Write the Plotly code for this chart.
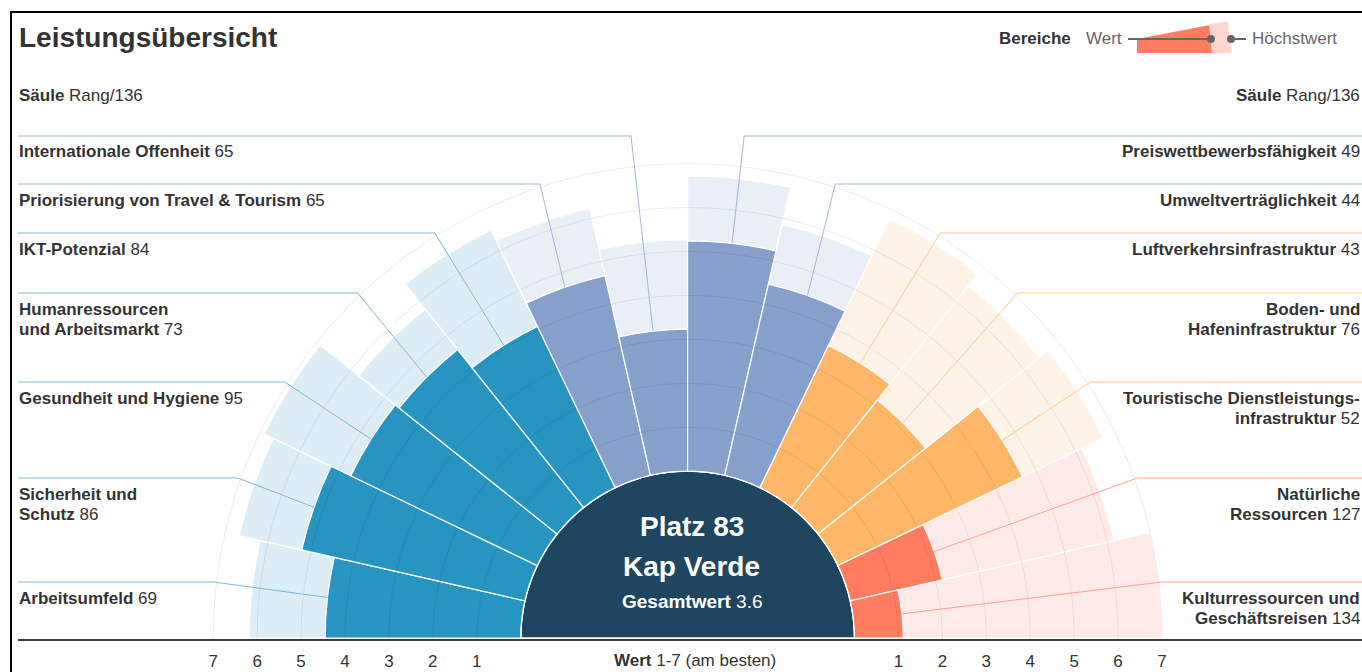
import math
import plotly.graph_objects as go

# ---------------- data ----------------
pillars = [
    "Arbeitsumfeld", "Sicherheit und Schutz", "Gesundheit und Hygiene",
    "Humanressourcen und Arbeitsmarkt", "IKT-Potenzial",
    "Priorisierung von Travel & Tourism", "Internationale Offenheit",
    "Preiswettbewerbsfähigkeit", "Umweltverträglichkeit",
    "Luftverkehrsinfrastruktur", "Boden- und Hafeninfrastruktur",
    "Touristische Dienstleistungsinfrastruktur", "Natürliche Ressourcen",
    "Kulturressourcen und Geschäftsreisen",
]
label_lines = [
    ["Arbeitsumfeld"], ["Sicherheit und", "Schutz"], ["Gesundheit und Hygiene"],
    ["Humanressourcen", "und Arbeitsmarkt"], ["IKT-Potenzial"],
    ["Priorisierung von Travel & Tourism"], ["Internationale Offenheit"],
    ["Preiswettbewerbsfähigkeit"], ["Umweltverträglichkeit"],
    ["Luftverkehrsinfrastruktur"], ["Boden- und", "Hafeninfrastruktur"],
    ["Touristische Dienstleistungs-", "infrastruktur"], ["Natürliche", "Ressourcen"],
    ["Kulturressourcen und", "Geschäftsreisen"],
]
ranks = [69, 86, 95, 73, 84, 65, 65, 49, 44, 43, 76, 52, 127, 134]
values = [4.45, 5.21, 4.71, 4.60, 4.07, 4.66, 3.23, 5.24, 4.46, 3.59, 3.13, 4.66, 2.15, 1.11]
max_values = [6.18, 6.67, 6.90, 5.78, 6.51, 6.23, 5.27, 6.72, 5.86, 6.80, 6.44, 6.70, 6.16, 7.00]
groups = [0, 0, 0, 0, 0, 1, 1, 1, 1, 2, 2, 2, 3, 3]
n_countries = 136
overall_rank = 83
country = "Kap Verde"
overall_score = 3.6
scale_ticks = [1, 2, 3, 4, 5, 6, 7]

# ---------------- style / layout ----------------
dark_colors = ["#2794C1", "#879FCB", "#FFB767", "#FF7C60"]
light_colors = ["#DDEDF5", "#EAEFF6", "#FFF3E7", "#FFEAE7"]
line_colors = ["#7DB7D7", "#A3B6DC", "#FFC58C", "#FFA092"]
navy = "#1F465E"
txt = "#333333"
grey = "#666666"
grid_color = "rgba(0,0,0,0.075)"
FONT = "Liberation Sans, Arial, sans-serif"
FS = 17

W, H = 1362, 672
CX, CY = 687.6, 638.0      # centre of the half circle (px)
R_PX = 474.4               # radius of value 7 (px)
LEFT_PX = 18
TEXT_DX = 4                # centre texts sit slightly right of the centre
label_line_py = [582, 478, 382, 293, 233, 184, 136, 136, 184, 233, 293, 382, 478, 582]
LINE_GAP = 20.5

R_MIN = -3.8               # radial value at the centre (hole)
R_MAX = 7
UNIT = R_PX / (R_MAX - R_MIN)  # px per value unit


def fx(px):
    return px / W


def fy(py):
    return 1 - py / H


n = len(pillars)
step = 180.0 / n
thetas = [180 - (i + 0.5) * step for i in range(n)]

fig = go.Figure()

# centre disc
fig.add_trace(go.Barpolar(r=[-R_MIN], base=[R_MIN], theta=[90], width=[180],
                          marker=dict(color=navy, line=dict(color="white", width=1.5)),
                          hoverinfo="skip", showlegend=False))
# maximum values
fig.add_trace(go.Barpolar(r=max_values, base=[0] * n, theta=thetas, width=[step] * n,
                          marker=dict(color=[light_colors[g] for g in groups],
                                      line=dict(color="white", width=1.2)),
                          hoverinfo="skip", showlegend=False))
# country values
fig.add_trace(go.Barpolar(r=values, base=[0] * n, theta=thetas, width=[step] * n,
                          marker=dict(color=[dark_colors[g] for g in groups],
                                      line=dict(color="white", width=1.2)),
                          customdata=pillars, hovertemplate="%{customdata}: %{r}<extra></extra>",
                          showlegend=False))

# cartesian overlay with the same geometry as the polar plot (unit = one value step)
x_lo = (LEFT_PX - CX) / UNIT
x_hi = (W - CX) / UNIT
y_lo = -1 / UNIT
y_hi = CY / UNIT
fig.add_trace(go.Scatter(x=[], y=[], xaxis="x", yaxis="y", showlegend=False, hoverinfo="skip"))
tickvals = [-(t - R_MIN) for t in reversed(scale_ticks)] + [t - R_MIN for t in scale_ticks]
ticktext = [str(t) for t in reversed(scale_ticks)] + [str(t) for t in scale_ticks]

shapes = []
# scale circles drawn over the bars (clipped to the upper half by the axes area)
for t in scale_ticks:
    rho = t - R_MIN
    shapes.append(dict(type="circle", xref="x", yref="y", layer="above",
                       x0=-rho, x1=rho, y0=-rho, y1=rho,
                       line=dict(color=grid_color, width=1), fillcolor="rgba(0,0,0,0)"))
# leader lines (tip of the value bar -> elbow -> label)
r_el = (R_MAX - R_MIN) + 3 / UNIT
for i in range(n):
    th = math.radians(thetas[i])
    rho = values[i] - R_MIN
    xt, yt = rho * math.cos(th), rho * math.sin(th)
    yd = (CY - label_line_py[i]) / UNIT
    sgn = 1 if math.cos(th) > 0 else -1
    if yd < r_el:
        xe = sgn * math.sqrt(r_el ** 2 - yd ** 2)
    else:
        xe = yd / math.tan(th)
    xend = x_hi if sgn > 0 else x_lo
    shapes.append(dict(type="path", xref="x", yref="y", layer="above",
                       path="M %f,%f L %f,%f L %f,%f" % (xt, yt, xe, yd, xend, yd),
                       line=dict(color=line_colors[groups[i]], width=1)))

annotations = []
annotations.append(dict(text="<b>Leistungsübersicht</b>", x=fx(17), y=fy(37), xanchor="left",
                        yanchor="middle", font=dict(size=28, color=txt)))
for xa, xx in [("left", fx(17)), ("right", 1.0)]:
    annotations.append(dict(text="<b>Säule</b> Rang/%d" % n_countries, x=xx, y=fy(96), xanchor=xa,
                            yanchor="middle", font=dict(size=FS, color=txt)))
for i in range(n):
    left = thetas[i] > 90
    lines = label_lines[i]
    for k, ln in enumerate(lines):
        html = "<b>%s</b>" % ln
        if k == len(lines) - 1:
            html += " %d" % ranks[i]
        annotations.append(dict(text=html, x=fx(17) if left else 1.0,
                                y=fy(label_line_py[i] + 16 + k * LINE_GAP),
                                xanchor="left" if left else "right", yanchor="middle",
                                font=dict(size=FS, color=txt)))
annotations.append(dict(text="<b>Platz %d</b>" % overall_rank, x=fx(CX + TEXT_DX), y=fy(526),
                        xanchor="center", yanchor="middle", font=dict(size=28, color="white")))
annotations.append(dict(text="<b>%s</b>" % country, x=fx(CX + TEXT_DX), y=fy(566), xanchor="center",
                        yanchor="middle", font=dict(size=28, color="white")))
annotations.append(dict(text="<b>Gesamtwert</b> %.1f" % overall_score, x=fx(CX + TEXT_DX), y=fy(601),
                        xanchor="center", yanchor="middle", font=dict(size=19, color="white")))
annotations.append(dict(text="<b>Wert</b> 1-7 (am besten)", x=fx(CX + 7), y=fy(660),
                        xanchor="center", yanchor="middle", font=dict(size=FS, color=txt)))
# legend texts
annotations.append(dict(text="<b>Bereiche</b>", x=fx(1073), y=fy(38), xanchor="right", yanchor="middle",
                        font=dict(size=FS, color=txt)))
annotations.append(dict(text="Wert", x=fx(1124), y=fy(38), xanchor="right", yanchor="middle",
                        font=dict(size=FS, color=grey)))
annotations.append(dict(text="Höchstwert", x=fx(1250), y=fy(38), xanchor="left", yanchor="middle",
                        font=dict(size=FS, color=grey)))
for a in annotations:
    a.update(xref="paper", yref="paper", showarrow=False)


def path(pts):
    return "M " + " L ".join("%f,%f" % (fx(a), fy(b)) for a, b in pts) + " Z"


shapes += [
    dict(type="rect", xref="paper", yref="paper", x0=fx(11), y0=fy(12), x1=fx(1375), y1=fy(690),
         line=dict(color="black", width=2), fillcolor="rgba(0,0,0,0)", layer="above"),
    dict(type="path", xref="paper", yref="paper", path=path([(1137, 39), (1210, 25), (1212, 53), (1137, 53)]),
         fillcolor=dark_colors[3], line=dict(width=0), layer="above"),
    dict(type="path", xref="paper", yref="paper", path=path([(1209, 24), (1228, 21.5), (1232, 53), (1212, 53)]),
         fillcolor="#FFD6CF", line=dict(width=0), layer="above"),
    dict(type="line", xref="paper", yref="paper", x0=fx(1128), y0=fy(39), x1=fx(1211), y1=fy(39),
         line=dict(color=grey, width=2), layer="above"),
    dict(type="line", xref="paper", yref="paper", x0=fx(1231), y0=fy(39), x1=fx(1246), y1=fy(39),
         line=dict(color=grey, width=2), layer="above"),
    dict(type="circle", xref="paper", yref="paper", x0=fx(1207), y0=fy(35), x1=fx(1215), y1=fy(43),
         fillcolor=grey, line=dict(width=0), layer="above"),
    dict(type="circle", xref="paper", yref="paper", x0=fx(1227), y0=fy(35), x1=fx(1235), y1=fy(43),
         fillcolor=grey, line=dict(width=0), layer="above"),
]

fig.update_layout(
    width=W, height=H, margin=dict(l=0, r=0, t=0, b=0),
    paper_bgcolor="white", plot_bgcolor="rgba(0,0,0,0)",
    font=dict(family=FONT, color=txt),
    showlegend=False,
    polar=dict(
        domain=dict(x=[fx(CX - R_PX), fx(CX + R_PX)], y=[fy(CY), fy(CY - R_PX)]),
        sector=[0, 180], hole=0, bgcolor="rgba(0,0,0,0)",
        radialaxis=dict(range=[R_MIN, R_MAX], tickvals=scale_ticks, showticklabels=False, ticks="",
                        showline=False, showgrid=False),
        angularaxis=dict(showgrid=False, showticklabels=False, ticks="", showline=False,
                         thetaunit="degrees", rotation=0, direction="counterclockwise"),
    ),
    xaxis=dict(domain=[fx(LEFT_PX), 1], range=[x_lo, x_hi], tickvals=tickvals, ticktext=ticktext,
               showgrid=False, zeroline=False, showline=True, linecolor="#3a3a3a", linewidth=2,
               ticks="outside", ticklen=6, tickcolor="rgba(0,0,0,0)", tickfont=dict(size=FS, color=txt),
               fixedrange=True),
    yaxis=dict(domain=[fy(CY + 1), 1], range=[y_lo, y_hi], visible=False, fixedrange=True),
    annotations=annotations,
    shapes=shapes,
)

# the figure fills the whole window: drop the default 8px page margin
fig.write_html("out.html", config={"displayModeBar": False},
               post_script="document.body.style.margin='0';")
